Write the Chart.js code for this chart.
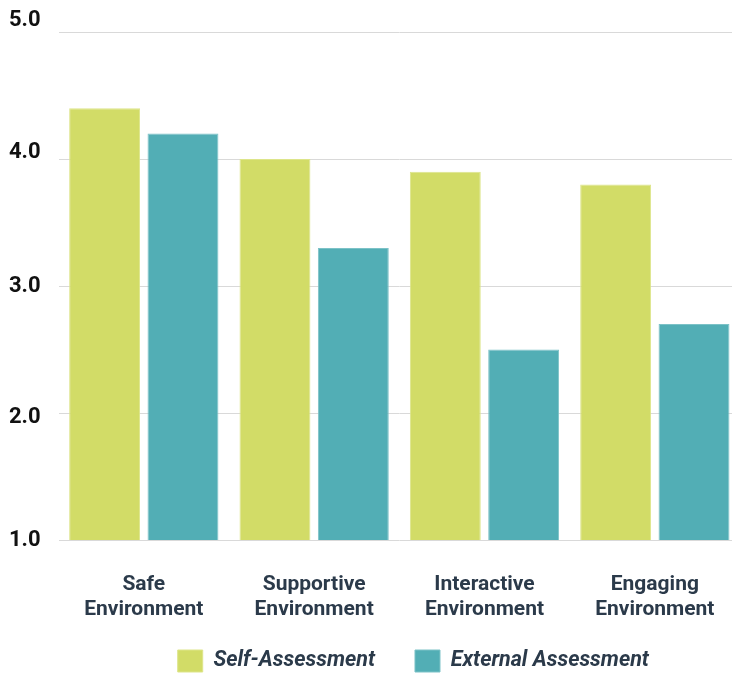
<!DOCTYPE html>
<html>
<head>
<meta charset="utf-8">
<script src="https://cdn.jsdelivr.net/npm/chart.js@4"></script>
<style>
    html, body { margin: 0; padding: 0; background: #ffffff; overflow: hidden; }
    /* the plot runs a few pixels past the right edge of the frame */
    #wrap { width: 732px; height: 673px; overflow: hidden; }
</style>
</head>
<body>
<div id="wrap"><canvas id="envChart" width="740" height="673"></canvas></div>
<script>
// DATA
const categories = [
    ['Safe', 'Environment'],
    ['Supportive', 'Environment'],
    ['Interactive', 'Environment'],
    ['Engaging', 'Environment']
];
const selfAssessment = [4.4, 4.0, 3.9, 3.8];
const externalAssessment = [4.2, 3.3, 2.5, 2.7];
const yTicks = [1, 2, 3, 4, 5];

// some y labels sit a little off their gridline (px, negative = up)
const tickNudge = { 5: -12, 4: -7, 2: 4 };

// place the legend row after layout: a bit right of centre, hugging the bottom edge
const legendPlacement = {
    id: 'legendPlacement',
    afterLayout(chart) {
        const lg = chart.legend;
        lg.left += 14;
        lg.right += 14;
        lg.top = chart.height - 63;
        lg.bottom = chart.height;
    }
};

// CHART
const ctx = document.getElementById('envChart').getContext('2d');
const envChart = new Chart(ctx, {
    type: 'bar',
    data: {
        labels: categories,
        datasets: [{
            label: 'Self-Assessment',
            data: selfAssessment,
            backgroundColor: '#d2dc67',
            borderColor: '#dde58a',
            borderWidth: 1,
            categoryPercentage: 0.92,
            barPercentage: 0.905
        }, {
            label: 'External Assessment',
            data: externalAssessment,
            backgroundColor: '#52aeb5',
            borderColor: '#7cc2c7',
            borderWidth: 1,
            categoryPercentage: 0.92,
            barPercentage: 0.905
        }]
    },
    options: {
        responsive: false,
        animation: false,
        layout: { padding: { top: 32, right: 0, left: -9, bottom: 0 } },
        scales: {
            y: {
                min: yTicks[0],
                max: yTicks[yTicks.length - 1],
                border: { display: false },
                grid: { color: '#d9d9d9', drawTicks: false, lineWidth: 1 },
                afterBuildTicks: axis => { axis.ticks = yTicks.map(v => ({ value: v })); },
                afterFit: axis => { axis.paddingTop = 0; },
                ticks: {
                    padding: 18,
                    color: '#111111',
                    font: c => {
                        const n = c.tick ? (tickNudge[c.tick.value] || 0) : 0;
                        return { family: 'Roboto', size: 22, weight: 'bold', lineHeight: n ? (2 * Math.abs(n)) + 'px' : 1.2 };
                    },
                    callback: v => {
                        const t = v.toFixed(1);
                        const n = tickNudge[v] || 0;
                        if (n < 0) return [t, ''];
                        if (n > 0) return ['', t];
                        return t;
                    }
                }
            },
            x: {
                border: { display: false },
                grid: { display: false },
                afterFit: axis => { axis.height = 111; },
                ticks: {
                    padding: 24,
                    color: '#2b3a4a',
                    font: { family: 'Roboto', size: 21, weight: 'bold', lineHeight: 1.19 }
                }
            }
        },
        plugins: {
            legend: {
                position: 'bottom',
                fullSize: false,
                maxHeight: 22,
                labels: {
                    boxWidth: 25,
                    boxHeight: 22,
                    padding: 40,
                    color: '#2b3a4a',
                    font: { family: 'Roboto', size: 21.5, weight: 'bold', style: 'italic' }
                }
            },
            tooltip: { enabled: false }
        }
    },
    plugins: [legendPlacement]
});
</script>
</body>
</html>
